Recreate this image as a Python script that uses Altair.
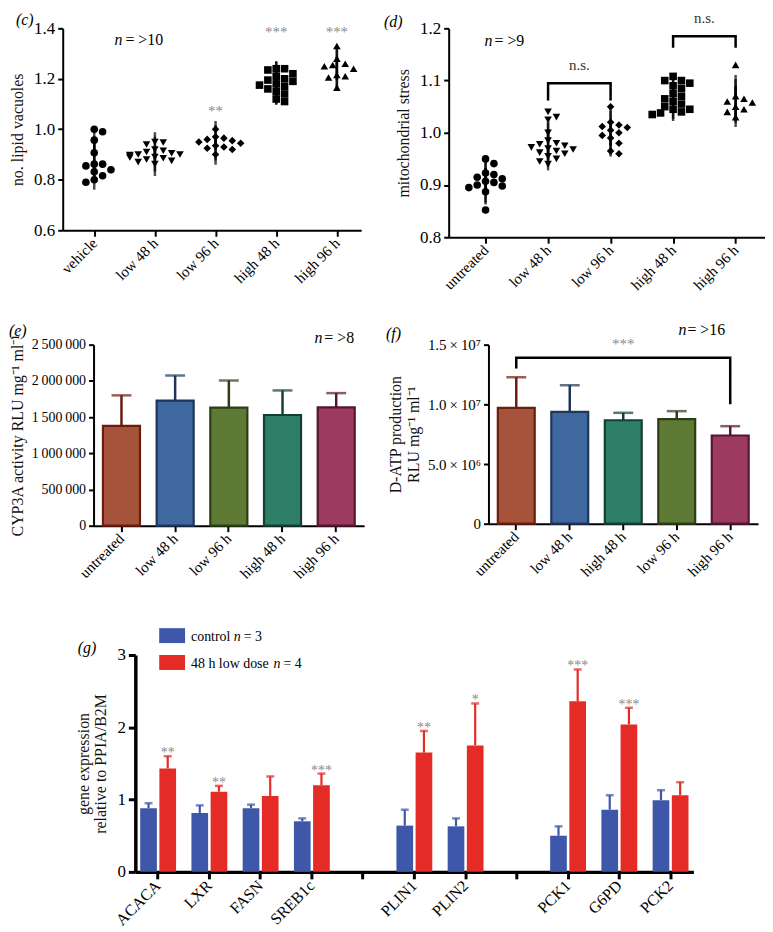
import altair as alt
import pandas as pd

FONT = "Liberation Serif"

# ---------------- panel (c) : no. lipid vacuoles ----------------
c_groups = ["vehicle", "low 48 h", "low 96 h", "high 48 h", "high 96 h"]
c_vehicle = [0.99, 1.00, 0.957, 0.907, 0.862, 0.862, 0.855, 0.84, 0.832, 0.816, 0.80, 0.79]
c_low48 = [0.95, 0.948, 0.94, 0.92, 0.915, 0.91, 0.905, 0.90, 0.90, 0.898, 0.895, 0.89,
           0.888, 0.885, 0.88, 0.875, 0.87, 0.862]
c_low96 = [1.0, 0.97, 0.965, 0.96, 0.955, 0.95, 0.945, 0.935, 0.93, 0.925, 0.92, 0.90]
c_high48 = [1.24, 1.24, 1.235, 1.22, 1.21, 1.2, 1.195, 1.19, 1.18, 1.175, 1.17, 1.16,
            1.15, 1.14, 1.12, 1.11]
c_high96 = [1.33, 1.28, 1.26, 1.255, 1.25, 1.24, 1.215, 1.21, 1.205, 1.165]
c_star_idx = [2, 3, 4]
c_star_text = ["**", "***", "***"]
c_star_y = [1.054, 1.365, 1.365]
c_yticks = [0.6, 0.8, 1.0, 1.2, 1.4]

# ---------------- panel (d) : mitochondrial stress ----------------
d_groups = ["untreated", "low 48 h", "low 96 h", "high 48 h", "high 96 h"]
d_untreated = [0.95, 0.941, 0.923, 0.92, 0.915, 0.912, 0.907, 0.905, 0.90, 0.898, 0.895, 0.887, 0.852]
d_low48 = [1.04, 1.03, 1.025, 1.0, 0.985, 0.98, 0.978, 0.975, 0.972, 0.97, 0.968, 0.965,
           0.962, 0.96, 0.955, 0.95, 0.945, 0.94]
d_low96 = [1.05, 1.02, 1.015, 1.012, 1.01, 1.005, 1.0, 0.995, 0.99, 0.98, 0.965, 0.96]
d_high48 = [1.108, 1.10, 1.10, 1.095, 1.09, 1.085, 1.075, 1.07, 1.065, 1.06, 1.055, 1.05,
            1.045, 1.045, 1.04, 1.038, 1.035]
d_high96 = [1.13, 1.07, 1.065, 1.06, 1.058, 1.05, 1.045, 1.04, 1.03]
d_yticks = [0.8, 0.9, 1.0, 1.1, 1.2]
d_br_left = [1, 3]
d_br_right = [2, 4]
d_br_top = [1.095, 1.185]
d_br_low_left = [1.062, 1.163]
d_br_low_right = [1.062, 1.163]
d_ns_y = [1.12, 1.211]

# ---------------- panel (e) : CYP3A activity ----------------
e_conds = ["untreated", "low 48 h", "low 96 h", "high 48 h", "high 96 h"]
e_mean = [1378000, 1727000, 1630000, 1529000, 1635000]
e_sd = [422000, 347000, 375000, 339000, 196000]
e_ticks = [0, 500000, 1000000, 1500000, 2000000, 2500000]
e_tick_labels = ["0", "500\u2009000", "1\u2009000\u2009000", "1\u2009500\u2009000",
                 "2\u2009000\u2009000", "2\u2009500\u2009000"]

# ---------------- panel (f) : D-ATP production ----------------
f_conds = ["untreated", "low 48 h", "high 48 h", "low 96 h", "high 96 h"]
f_mean = [9.70e6, 9.37e6, 8.67e6, 8.76e6, 7.39e6]
f_sd = [2.57e6, 2.23e6, 0.62e6, 0.67e6, 0.78e6]
f_ticks = [0.0, 5.0e6, 1.0e7, 1.5e7]
f_tick_labels = ["0", "5.0\u2009\u00d7\u200910\u2076", "1.0\u2009\u00d7\u200910\u2077", "1.5\u2009\u00d7\u200910\u2077"]
f_br_cats = ["untreated", "untreated", "high 96 h", "high 96 h"]
f_br_y = [1.30e7, 1.39e7, 1.39e7, 1.0e7]
f_star_cat = "high 48 h"
f_star_y = 1.467e7

# ---------------- panel (g) : gene expression ----------------
g_slots = ["ACACA", "LXR", "FASN", "SREB1c", "gap1", "PLIN1", "PLIN2", "gap2", "PCK1", "G6PD", "PCK2"]
g_genes = ["ACACA", "LXR", "FASN", "SREB1c", "PLIN1", "PLIN2", "PCK1", "G6PD", "PCK2"]
g_series = ["control", "48 h low dose"]
g_series_n = ["= 3", "= 4"]
g_colors = ["#3F57A8", "#E42B26"]
g_ctrl = [0.88, 0.815, 0.88, 0.70, 0.64, 0.63, 0.50, 0.86, 0.99]
g_ctrl_sd = [0.07, 0.105, 0.05, 0.04, 0.22, 0.11, 0.13, 0.20, 0.14]
g_low = [1.43, 1.11, 1.05, 1.20, 1.65, 1.75, 2.36, 2.04, 1.06]
g_low_sd = [0.17, 0.08, 0.27, 0.16, 0.30, 0.58, 0.44, 0.23, 0.18]
g_stars = ["**", "**", "", "***", "**", "*", "***", "***", ""]

# ---------------- styles ----------------
SHAPES = ["circle", "triangle-down", "diamond", "square", "triangle-up"]
COND_FILL = {"untreated": "#A6533B", "low 48 h": "#3F67A0", "low 96 h": "#5E7A35",
             "high 48 h": "#2E7F68", "high 96 h": "#9D3A60"}
COND_STROKE = {"untreated": "#6B1D10", "low 48 h": "#1F3657", "low 96 h": "#2D3E16",
               "high 48 h": "#163F33", "high 96 h": "#561632"}
STAR_COLOR = "#8a8a8a"


def swarm(vals, ypx, xpx, diam=7.0, step=4.2):
    order = sorted(range(len(vals)), key=lambda i: -vals[i])
    placed = []
    offs = [0.0] * len(vals)
    for i in order:
        y = vals[i] * ypx
        x = 0.0
        for k in [0, 1, -1, 2, -2, 3, -3, 4, -4, 5, -5, 6, -6]:
            x = k * step
            if all((x - px) ** 2 + (y - py) ** 2 >= diam ** 2 for px, py in placed):
                break
        placed.append((x, y))
        offs[i] = x / xpx
    return offs


def ptext(txt, x, y, size=16, style="normal", align="left", color="black", baseline="alphabetic"):
    return alt.Chart(pd.DataFrame({"t": [txt]})).mark_text(
        align=align, baseline=baseline, fontSize=size, fontStyle=style, color=color, font=FONT
    ).encode(x=alt.value(x), y=alt.value(y), text="t:N")


def lookup_expr(values, labels):
    vals = ",".join(repr(v) for v in values)
    labs = ",".join("'" + l + "'" for l in labels)
    return f"[{labs}][indexof([{vals}], datum.value)]"


def scatter_panel(groups, series, ydom, yticks, ytitle, width, height, xdom):
    ypx = height / (ydom[1] - ydom[0])
    xpx = width / (xdom[1] - xdom[0])
    rows = []
    for i, (g, vals) in enumerate(zip(groups, series)):
        offs = swarm(vals, ypx, xpx)
        for v, o in zip(vals, offs):
            rows.append({"group": g, "idx": i, "value": v, "xj": i + o})
    df = pd.DataFrame(rows)
    xs = alt.Scale(domain=xdom, nice=False, zero=False)
    ys = alt.Scale(domain=ydom, nice=False, zero=False)
    lab = "[" + ",".join("'" + g + "'" for g in groups) + "][datum.value]"
    xaxis = alt.Axis(values=list(range(len(groups))), labelExpr=lab, title=None, labelAngle=-45,
                     labelAlign="right", labelBaseline="middle", labelFontSize=15, domainWidth=2,
                     tickWidth=2, tickSize=6, labelPadding=4, grid=False, labelOverlap=False)
    yaxis = alt.Axis(values=yticks, format=".1f", title=ytitle, titleFontSize=16, labelFontSize=17,
                     domainWidth=2, tickWidth=2, tickSize=5, labelPadding=3, titlePadding=8,
                     titleFontWeight="normal", grid=False, labelOverlap=False)
    base = alt.Chart(df)
    pts = base.mark_point(filled=True, opacity=1, color="black", size=58).encode(
        x=alt.X("xj:Q", scale=xs, axis=xaxis),
        y=alt.Y("value:Q", scale=ys, axis=yaxis),
        shape=alt.Shape("group:N", scale=alt.Scale(domain=groups, range=SHAPES), legend=None),
    )
    stats = base.transform_aggregate(
        m="mean(value)", sd="stdev(value)", groupby=["idx"]
    ).transform_calculate(lo="datum.m - datum.sd", hi="datum.m + datum.sd")
    xi = alt.X("idx:Q", scale=xs, axis=xaxis)
    meanline = stats.mark_tick(orient="vertical", color="black", size=44, thickness=2.5).encode(
        x=xi, y=alt.Y("m:Q", scale=ys, axis=yaxis))
    sdrule = stats.mark_rule(color="black", strokeWidth=2.5).encode(
        x=xi, y=alt.Y("lo:Q", scale=ys, axis=yaxis), y2="hi:Q")
    caps = stats.transform_fold(["lo", "hi"], as_=["k", "cv"]).mark_tick(
        orient="vertical", color="black", size=22, thickness=2.5
    ).encode(x=xi, y=alt.Y("cv:Q", scale=ys, axis=yaxis))
    return pts, meanline, sdrule, caps, xs, ys, xaxis, yaxis


# ================= (c) =================
cW, cH = 300, 203
c_xdom = [-0.52, 4.4]
pts, ml, sr, cp, xs_c, ys_c, xa_c, ya_c = scatter_panel(
    c_groups, [c_vehicle, c_low48, c_low96, c_high48, c_high96], [0.6, 1.4], c_yticks,
    "no. lipid vacuoles", cW, cH, c_xdom)
c_stars = alt.Chart(pd.DataFrame({"idx": c_star_idx, "y": c_star_y, "t": c_star_text})).mark_text(
    baseline="alphabetic", fontSize=15, color=STAR_COLOR, font=FONT
).encode(x=alt.X("idx:Q", scale=xs_c, axis=xa_c), y=alt.Y("y:Q", scale=ys_c, axis=ya_c), text="t:N")
c_chart = alt.layer(
    pts, ml, sr, cp, c_stars,
    ptext("(c)", -47, -3, size=16, style="italic"),
    ptext("n", 52, 17, size=16, style="italic"),
    ptext("= >10", 63, 17, size=16),
).properties(width=cW, height=cH)

# ================= (d) =================
dW, dH = 318, 210
d_xdom = [-0.59, 4.47]
pts, ml, sr, cp, xs_d, ys_d, xa_d, ya_d = scatter_panel(
    d_groups, [d_untreated, d_low48, d_low96, d_high48, d_high96], [0.8, 1.2], d_yticks,
    "mitochondrial stress", dW, dH, d_xdom)
br_rows = []
for b, (l, r, t, bl, brr) in enumerate(zip(d_br_left, d_br_right, d_br_top, d_br_low_left, d_br_low_right)):
    br_rows += [{"b": b, "o": 0, "x": l, "y": bl}, {"b": b, "o": 1, "x": l, "y": t},
                {"b": b, "o": 2, "x": r, "y": t}, {"b": b, "o": 3, "x": r, "y": brr}]
d_br = alt.Chart(pd.DataFrame(br_rows)).mark_line(color="black", strokeWidth=2.5).encode(
    x=alt.X("x:Q", scale=xs_d, axis=xa_d), y=alt.Y("y:Q", scale=ys_d, axis=ya_d),
    detail="b:N", order="o:Q")
ns_df = pd.DataFrame({"x": [(l + r) / 2 for l, r in zip(d_br_left, d_br_right)], "y": d_ns_y,
                      "t": ["n.s." for _ in d_br_left]})
d_ns = alt.Chart(ns_df).mark_text(baseline="alphabetic", fontSize=15, color="#333", font=FONT).encode(
    x=alt.X("x:Q", scale=xs_d, axis=xa_d), y=alt.Y("y:Q", scale=ys_d, axis=ya_d), text="t:N")
d_chart = alt.layer(
    pts, ml, sr, cp, d_br, d_ns,
    ptext("(d)", -65, -1, size=16, style="italic"),
    ptext("n", 36, 18, size=16, style="italic"),
    ptext("= >9", 46, 18, size=16),
).properties(width=dW, height=dH)


# ================= bar panels (e), (f) =================
def bar_panel(conds, means, sds, ydom, ticks, tick_labels, ytitle, width, height, label_size):
    df = pd.DataFrame({"cond": conds, "mean": means, "top": [m + s for m, s in zip(means, sds)]})
    x = alt.X("cond:N", sort=conds, scale=alt.Scale(domain=conds, paddingInner=0.31, paddingOuter=0.175),
              axis=alt.Axis(title=None, labelAngle=-45, labelAlign="right", labelBaseline="middle",
                            labelFontSize=15, domainWidth=2, tickWidth=2, tickSize=6, labelPadding=4))
    ys = alt.Scale(domain=ydom, nice=False, zero=True)
    yax = alt.Axis(values=ticks, labelExpr=lookup_expr(ticks, tick_labels), labelOverlap=False,
                   title=ytitle, titleFontSize=16, labelFontSize=label_size,
                   domainWidth=2, tickWidth=2, tickSize=5, labelPadding=3,
                   titlePadding=6, titleFontWeight="normal")
    fill_sc = alt.Scale(domain=list(COND_FILL), range=list(COND_FILL.values()))
    str_sc = alt.Scale(domain=list(COND_STROKE), range=list(COND_STROKE.values()))
    bars = alt.Chart(df).mark_bar(strokeWidth=2.2).encode(
        x=x,
        y=alt.Y("mean:Q", scale=ys, axis=yax),
        fill=alt.Fill("cond:N", scale=fill_sc, legend=None),
        stroke=alt.Stroke("cond:N", scale=str_sc, legend=None),
    )
    err = alt.Chart(df).mark_rule(strokeWidth=2.5).encode(
        x=x, y=alt.Y("mean:Q", scale=ys, axis=yax), y2="top:Q",
        color=alt.Color("cond:N", scale=str_sc, legend=None))
    cap = alt.Chart(df).mark_tick(size=20, thickness=2.5).encode(
        x=x, y=alt.Y("top:Q", scale=ys, axis=yax),
        color=alt.Color("cond:N", scale=str_sc, legend=None))
    return err, bars, cap, x, ys, yax


eW, eH = 272, 182
err, bars, cap, xe, yse, yae = bar_panel(e_conds, e_mean, e_sd, [0, 2500000], e_ticks, e_tick_labels,
                                         "CYP3A activity RLU mg\u207b\u00b9 ml\u207b\u00b9", eW, eH, 14)
e_chart = alt.layer(
    err, bars, cap,
    ptext("(e)", -85, -9, size=16, style="italic"),
    ptext("n", 222, -2, size=16, style="italic"),
    ptext("= >8", 232, -2, size=16),
).properties(width=eW, height=eH)

fW, fH = 271, 180
err, bars, cap, xf, ysf, yaf = bar_panel(f_conds, f_mean, f_sd, [0, 1.5e7], f_ticks, f_tick_labels,
                                         ["D-ATP  production", "RLU mg\u207b\u00b9 ml\u207b\u00b9"], fW, fH, 15)
f_br = alt.Chart(pd.DataFrame({"cond": f_br_cats, "y": f_br_y, "o": [0, 1, 2, 3]})).mark_line(
    color="black", strokeWidth=2.5).encode(x=xf, y=alt.Y("y:Q", scale=ysf, axis=yaf), order="o:Q")
f_star = alt.Chart(pd.DataFrame({"cond": [f_star_cat], "y": [f_star_y], "t": ["***"]})).mark_text(
    baseline="alphabetic", fontSize=15, color=STAR_COLOR, font=FONT).encode(
    x=xf, y=alt.Y("y:Q", scale=ysf, axis=yaf), text="t:N")
f_chart = alt.layer(
    err, bars, cap, f_br, f_star,
    ptext("(f)", -103, -6, size=16, style="italic"),
    ptext("n", 191, -10, size=16, style="italic"),
    ptext("= >16", 200, -10, size=16),
).properties(width=fW, height=fH)

# ================= (g) =================
g_rows = []
for gene, cm, cs, lm, ls, st in zip(g_genes, g_ctrl, g_ctrl_sd, g_low, g_low_sd, g_stars):
    g_rows.append({"gene": gene, "series": g_series[0], "mean": cm, "top": cm + cs, "star": ""})
    g_rows.append({"gene": gene, "series": g_series[1], "mean": lm, "top": lm + ls, "star": st})
gdf = pd.DataFrame(g_rows)
gW, gH = 561, 218
xg = alt.X("gene:N", sort=g_slots, scale=alt.Scale(domain=g_slots, paddingInner=0.3, paddingOuter=0.095),
           axis=alt.Axis(title=None, labelExpr="indexof(datum.value, 'gap') == 0 ? '' : datum.value",
                         labelAngle=-45, labelAlign="right", labelBaseline="middle", labelFontSize=16,
                         domainWidth=3.5, tickWidth=3, tickSize=7, labelPadding=4))
xo = alt.XOffset("series:N", sort=g_series, scale=alt.Scale(domain=g_series, paddingInner=0.13))
ysg = alt.Scale(domain=[0, 3], nice=False)
yag = alt.Axis(values=[0, 1, 2, 3], format="d", title=["gene expression", "relative to PPIA/B2M"],
               titleFontSize=16, labelFontSize=17, domainWidth=3.5, tickWidth=3, tickSize=7,
               labelPadding=3, titlePadding=8, titleFontWeight="normal")
gcol = alt.Scale(domain=g_series, range=g_colors)
gcolor = alt.Color("series:N", scale=gcol, sort=g_series, legend=None)
g_bars = alt.Chart(gdf).mark_bar().encode(
    x=xg, xOffset=xo, y=alt.Y("mean:Q", scale=ysg, axis=yag), color=gcolor)
g_err = alt.Chart(gdf).mark_rule(strokeWidth=2.2).encode(
    x=xg, xOffset=xo, y=alt.Y("mean:Q", scale=ysg, axis=yag), y2="top:Q", color=gcolor)
g_cap = alt.Chart(gdf).mark_tick(size=8, thickness=2.5).encode(
    x=xg, xOffset=xo, y=alt.Y("top:Q", scale=ysg, axis=yag), color=gcolor)
g_star = alt.Chart(gdf).mark_text(baseline="alphabetic", fontSize=14, color=STAR_COLOR, font=FONT, dy=1).encode(
    x=xg, xOffset=xo, y=alt.Y("top:Q", scale=ysg, axis=yag), text="star:N")

# manual legend (rectangles + labels with italic n)
legend_layers = []
for i, (name, nlab, colr) in enumerate(zip(g_series, g_series_n, g_colors)):
    top = -27 + 27 * i
    legend_layers.append(
        alt.Chart(pd.DataFrame({"s": [name]})).mark_rect(color=colr).encode(
            x=alt.value(24), x2=alt.value(50), y=alt.value(top), y2=alt.value(top + 15)))
    legend_layers.append(ptext(name, 56, top + 13, size=14))
    nx = 56 + (43 if i == 0 else 83)
    legend_layers.append(ptext("n", nx, top + 13, size=14, style="italic"))
    legend_layers.append(ptext(nlab, nx + 10, top + 13, size=14))

g_chart = alt.layer(
    g_err, g_bars, g_cap, g_star, *legend_layers,
    ptext("(g)", -58, -2, size=16, style="italic"),
    ptext(".", -127, 0, size=8, color="white"),
).properties(width=gW, height=gH)


def spacer(w=1, h=1):
    return alt.Chart(pd.DataFrame({"a": [0]})).mark_point(opacity=0, size=0).encode(
        x=alt.X("a:Q", axis=None), y=alt.Y("a:Q", axis=None)).properties(width=w, height=h)


IND = dict(color="independent", fill="independent", stroke="independent", shape="independent")
row1 = alt.hconcat(spacer(), alt.hconcat(c_chart, d_chart, spacing=23).resolve_scale(**IND),
                   spacing=0).resolve_scale(**IND)
row2 = alt.hconcat(spacer(), alt.hconcat(e_chart, f_chart, spacing=22).resolve_scale(**IND),
                   spacing=0).resolve_scale(**IND)
row3 = alt.hconcat(spacer(), g_chart, spacing=0).resolve_scale(**IND)
upper = alt.vconcat(row1, row2, spacing=29).resolve_scale(**IND)

chart = alt.vconcat(upper, row3, spacing=47).resolve_scale(**IND).properties(
    padding=0
).configure(font=FONT).configure_view(
    stroke=None
).configure_axis(
    labelFont=FONT, titleFont=FONT, labelColor="black", titleColor="#111", domainColor="black",
    tickColor="black", grid=False
).configure_text(font=FONT)

chart.save("out.html", embed_options={"renderer": "svg", "actions": False})
